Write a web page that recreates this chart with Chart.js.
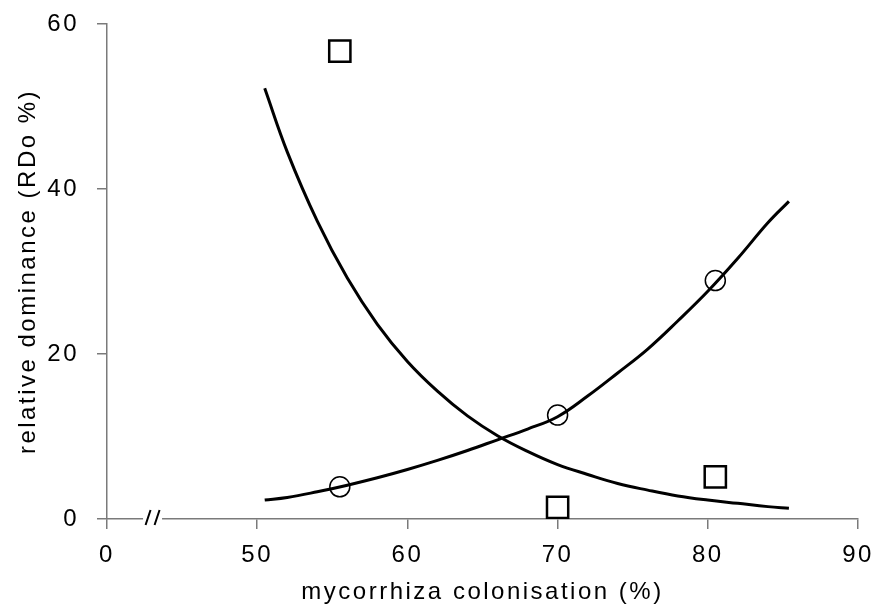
<!DOCTYPE html>
<html>
<head>
<meta charset="utf-8">
<script src="https://cdn.jsdelivr.net/npm/chart.js@4.4.1/dist/chart.umd.min.js"></script>
<style>
  html, body { margin: 0; padding: 0; background: #fff; }
  #wrap { width: 877px; height: 614px; }
</style>
</head>
<body>
<div id="wrap"><canvas id="chart" width="877" height="614"></canvas></div>
<script>
// ============================================================
// Relative dominance vs mycorrhiza colonisation
// ============================================================

// x axis is broken: the 40 position carries the "0" label
const xTicks = [40, 50, 60, 70, 80, 90];
const xTickLabels = ['0', '50', '60', '70', '80', '90'];
const yTicks = [0, 20, 40, 60];

// measured samples
const sampleX = [55.5, 70, 80.5];
const squareY = [56.7, 1.4, 5.1];
const circleY = [3.9, 12.6, 28.9];

// fitted curves
const curveX     = [50.5, 52, 54, 56, 58, 60, 62, 64, 66, 68, 70, 72, 74, 76, 78, 80, 82, 84, 85.4];
const fallCurveY = [52.2, 44.5, 36.1, 29.2, 23.6, 19.1, 15.5, 12.5, 10.1, 8.2, 6.6, 5.4, 4.3, 3.5, 2.8, 2.3, 1.9, 1.5, 1.3];
const riseCurveY = [2.3, 2.6, 3.3, 4.1, 5.0, 6.0, 7.1, 8.3, 9.6, 10.9, 12.4, 14.9, 17.7, 20.6, 24.0, 27.6, 31.6, 35.9, 38.5];

const AXIS = '#7a7a7a';
const FONT = "'Liberation Sans', Arial, sans-serif";

const toPts = (xs, ys) => xs.map((x, i) => ({ x, y: ys[i] }));

// "//" mark on the x axis between 0 and 50
const axisBreak = {
  id: 'axisBreak',
  afterDraw(chart) {
    const { ctx, scales: { x, y } } = chart;
    const px = x.getPixelForValue(43);
    const py = y.getPixelForValue(0);
    ctx.save();
    ctx.fillStyle = '#fff';
    ctx.fillRect(px - 9, py - 3, 19, 6);
    ctx.strokeStyle = '#000';
    ctx.lineWidth = 2;
    [-4, 5].forEach(dx => {
      ctx.beginPath();
      ctx.moveTo(px + dx + 2.5, py - 9);
      ctx.lineTo(px + dx - 2.5, py + 6);
      ctx.stroke();
    });
    ctx.restore();
  }
};

// wider letter spacing like the original figure
const spacing = {
  id: 'spacing',
  beforeDraw(chart) { chart.ctx.letterSpacing = '2.5px'; }
};

new Chart(document.getElementById('chart'), {
  type: 'scatter',
  data: {
    datasets: [
      {
        label: 'fall',
        data: toPts(curveX, fallCurveY),
        showLine: true,
        borderColor: '#000',
        borderWidth: 3,
        pointRadius: 0,
        tension: 0.4
      },
      {
        label: 'rise',
        data: toPts(curveX, riseCurveY),
        showLine: true,
        borderColor: '#000',
        borderWidth: 3,
        pointRadius: 0,
        tension: 0.4
      },
      {
        label: 'circles',
        data: toPts(sampleX, circleY),
        pointStyle: 'circle',
        pointRadius: 10,
        borderColor: '#000',
        borderWidth: 1.5,
        backgroundColor: 'rgba(0,0,0,0)'
      },
      {
        label: 'squares',
        data: toPts(sampleX, squareY),
        pointStyle: 'rect',
        pointRadius: 15,
        borderColor: '#000',
        borderWidth: 2.5,
        backgroundColor: '#fff'
      }
    ]
  },
  options: {
    responsive: false,
    animation: false,
    devicePixelRatio: 1,
    layout: { padding: { top: 24, right: 19, left: 0, bottom: 0 } },
    plugins: { legend: { display: false }, tooltip: { enabled: false } },
    scales: {
      x: {
        type: 'linear',
        min: 40, max: 90,
        afterBuildTicks: s => { s.ticks = xTicks.map(v => ({ value: v })); },
        afterFit: s => { s.height = 95; s.paddingLeft = 0; s.paddingRight = 0; },
        grid: { drawOnChartArea: false, tickLength: 10, color: AXIS, lineWidth: 1.5 },
        border: { color: AXIS, width: 1.5 },
        ticks: {
          color: '#000', padding: 14, maxRotation: 0,
          font: { family: FONT, size: 24, lineHeight: 1 },
          callback: v => xTickLabels[xTicks.indexOf(v)]
        },
        title: {
          display: true, text: 'mycorrhiza colonisation (%)', color: '#000',
          font: { family: FONT, size: 24 }, padding: { top: 0, bottom: 7 }
        }
      },
      y: {
        min: 0, max: 60,
        afterBuildTicks: s => { s.ticks = yTicks.map(v => ({ value: v })); },
        afterFit: s => { s.width = 107; s.paddingTop = 0; s.paddingBottom = 0; },
        grid: { drawOnChartArea: false, tickLength: 10, color: AXIS, lineWidth: 1.5 },
        border: { color: AXIS, width: 1.5 },
        ticks: { color: '#000', padding: 18, font: { family: FONT, size: 24 } },
        title: {
          display: true, text: 'relative dominance (RDo %)', color: '#000',
          font: { family: FONT, size: 24 }, padding: { top: 14, bottom: 0 }
        }
      }
    }
  },
  plugins: [axisBreak, spacing]
});
</script>
</body>
</html>
